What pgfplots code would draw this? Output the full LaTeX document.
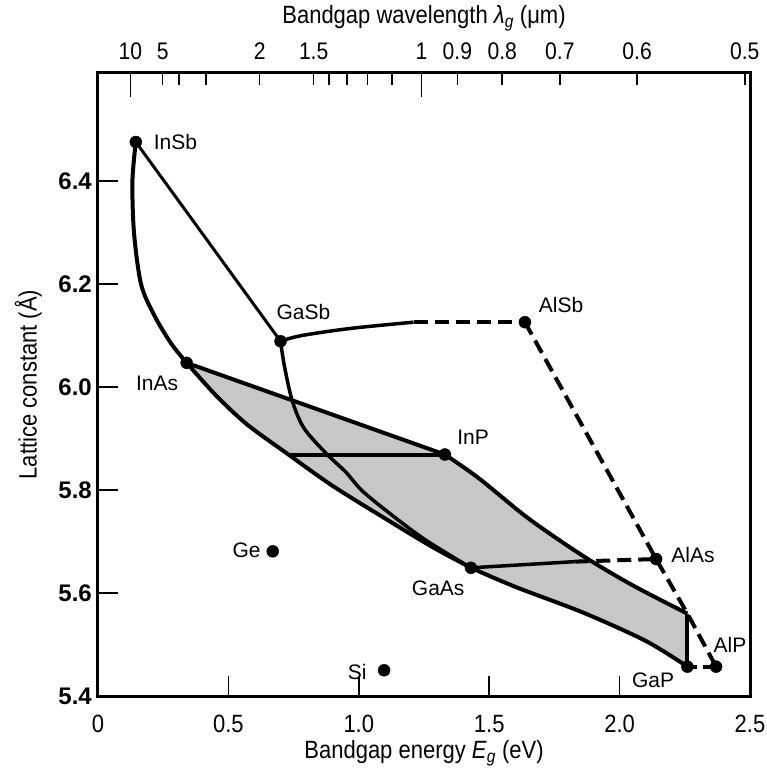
\documentclass[border=0pt]{standalone}
\usepackage{fontspec}
\setmainfont{Liberation Sans}
\newfontfamily\cond[FakeStretch=0.88]{Liberation Sans}
\usepackage{pgfplots}
\pgfplotsset{compat=1.18}
\begin{document}
\begin{tikzpicture}
\useasboundingbox (-98pt,-79pt) rectangle (668pt,696pt);
\begin{axis}[
 width=652pt, height=623pt, scale only axis,
 xmin=0, xmax=2.5, ymin=5.4, ymax=6.61,
 xtick={0.5,1,1.5,2}, xticklabels={0.5,1.0,1.5,2.0},
 extra x ticks={0,2.5}, extra x tick labels={0,2.5},
 extra x tick style={major tick length=0pt},
 ytick={5.4,5.6,5.8,6.0,6.2,6.4}, yticklabels={5.4,5.6,5.8,6.0,6.2,6.4},
 xtick pos=left, ytick pos=left, tick align=inside,
 major tick length=20pt,
 every tick/.style={black, line width=1.6pt},
 axis line style={line width=3pt},
 xticklabel style={font=\fontsize{25}{29}\selectfont\cond, anchor=center, yshift=-28pt},
 yticklabel style={font=\fontsize{24}{28}\selectfont\bfseries, anchor=east, inner sep=0pt, xshift=-6pt},
 xlabel={Bandgap energy \textit{E}\textsubscript{\textit{g}} (eV)},
 every axis x label/.style={font=\fontsize{25}{30}\selectfont\cond, at={(axis description cs:0.5,-0.0915)}, anchor=center},
 ylabel={Lattice constant (Å)},
 every axis y label/.style={font=\fontsize{25}{30}\selectfont\cond, at={(axis description cs:-0.107,0.5)}, anchor=center, rotate=90},
 clip=false,
]
% shaded region
\addplot[fill=black!22, draw=none] coordinates {
 (0.34,6.047) (1.33,5.869) (1.46,5.823) (1.65,5.745) (1.86,5.672) (2.05,5.615) (2.26,5.56)
 (2.26,5.457) (2.1,5.507) (1.86,5.562) (1.6,5.612) (1.43,5.649)
 (1.28,5.69) (1.1,5.745) (0.9,5.808) (0.73,5.869) (0.57,5.928) (0.45,5.985) (0.34,6.047)} -- cycle;
% InSb - InAs
\addplot[line width=4pt, smooth] coordinates {(0.145,6.476) (0.132,6.40) (0.138,6.30) (0.165,6.20) (0.215,6.14) (0.28,6.085) (0.34,6.047)};
% InSb - GaSb
\addplot[line width=3pt] coordinates {(0.145,6.476) (0.70,6.089)};
% GaSb - AlSb
\addplot[line width=3.5pt, smooth] coordinates {(0.70,6.089) (0.78,6.100) (0.97,6.114) (1.21,6.126)};
\addplot[line width=4pt, dash pattern=on 14pt off 7pt] coordinates {(1.21,6.126) (1.637,6.126)};
% AlSb - AlAs - AlP, GaP - AlP
\addplot[line width=4pt, dash pattern=on 14pt off 7pt] coordinates {(1.637,6.126) (2.14,5.666) (2.26,5.56) (2.37,5.457)};
\addplot[line width=4pt, dash pattern=on 10pt off 6pt] coordinates {(2.26,5.457) (2.37,5.457)};
% GaAs - AlAs
\addplot[line width=3.5pt] coordinates {(1.43,5.649) (1.83,5.661)};
\addplot[line width=4pt, dash pattern=on 14pt off 7pt] coordinates {(1.83,5.661) (2.14,5.666)};
% InAs - InP
\addplot[line width=4pt] coordinates {(0.34,6.047) (1.33,5.869)};
% InP horizontal
\addplot[line width=4pt] coordinates {(0.73,5.869) (1.33,5.869)};
% InP - corner
\addplot[line width=4pt, smooth] coordinates {(1.33,5.869) (1.46,5.823) (1.65,5.745) (1.86,5.672) (2.05,5.615) (2.26,5.56)};
% vertical at GaP
\addplot[line width=4pt] coordinates {(2.26,5.56) (2.26,5.457)};
% GaAs - GaP
\addplot[line width=4pt, smooth] coordinates {(1.43,5.649) (1.6,5.612) (1.86,5.562) (2.1,5.507) (2.26,5.457)};
% InAs - GaAs lower
\addplot[line width=4pt, smooth] coordinates {(0.34,6.047) (0.45,5.985) (0.57,5.928) (0.73,5.869) (0.9,5.808) (1.1,5.745) (1.28,5.69) (1.43,5.649)};
% GaSb - GaAs
\addplot[line width=3.5pt, smooth] coordinates {(0.70,6.089) (0.715,6.04) (0.745,5.973) (0.79,5.92) (0.877,5.87) (0.95,5.835) (1.01,5.80) (1.1,5.762) (1.25,5.705) (1.43,5.649)};
% dots
\addplot[only marks, mark=*, mark size=6pt, black] coordinates {
 (0.145,6.476) (0.70,6.089) (0.34,6.047) (1.637,6.126) (1.33,5.869) (1.43,5.649)
 (2.14,5.666) (2.26,5.457) (2.37,5.457) (0.67,5.681) (1.097,5.45)};
% labels
\begin{scope}[every node/.style={font=\fontsize{21}{25}\selectfont, inner sep=0pt}]
\node[anchor=west] at (axis cs:0.213,6.476) {InSb};
\node[anchor=west] at (axis cs:0.684,6.146) {GaSb};
\node[anchor=west] at (axis cs:0.145,6.008) {InAs};
\node[anchor=west] at (axis cs:1.69,6.159) {AlSb};
\node[anchor=west] at (axis cs:1.377,5.902) {InP};
\node[anchor=west] at (axis cs:2.198,5.674) {AlAs};
\node[anchor=west] at (axis cs:1.203,5.61) {GaAs};
\node[anchor=west] at (axis cs:2.047,5.431) {GaP};
\node[anchor=west] at (axis cs:2.36,5.50) {AlP};
\node[anchor=east] at (axis cs:0.624,5.684) {Ge};
\node[anchor=east] at (axis cs:1.03,5.446) {Si};
\end{scope}
\end{axis}
\begin{axis}[
 width=652pt, height=623pt, scale only axis,
 xmin=0, xmax=2.5, ymin=5.4, ymax=6.61,
 axis line style={draw=none},
 ytick=\empty,
 xtick pos=right, xticklabel pos=right, tick align=inside,
 xtick={0.248,0.62,0.827,1.378,1.55,1.771,2.067,2.48},
 xticklabels={5,2,1.5,0.9,0.8,0.7,0.6,0.5},
 minor xtick={0.31,0.413,0.886,0.954,1.033,1.127},
 major tick length=12pt, minor tick length=12pt,
 extra x ticks={0.124,1.24}, extra x tick labels={10,1},
 extra x tick style={major tick length=24pt},
 every tick/.style={black, line width=1.6pt},
 xticklabel style={font=\fontsize{24}{28}\selectfont\cond, anchor=base, yshift=13pt},
 xlabel={Bandgap wavelength \textit{λ}\textsubscript{\textit{g}} (μm)},
 every axis x label/.style={font=\fontsize{25}{30}\selectfont\cond, at={(axis description cs:0.5,1.088)}, anchor=center},
]
\end{axis}
\end{tikzpicture}
\end{document}
